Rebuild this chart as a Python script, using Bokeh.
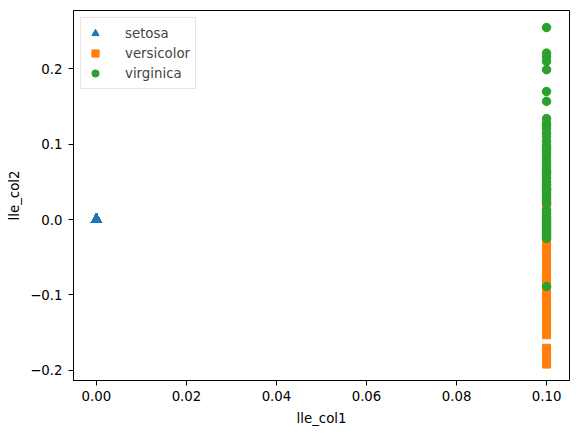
from bokeh.plotting import figure
from bokeh.models import Range1d, FixedTicker, CustomJSTickFormatter, Legend, LegendItem
from bokeh.embed import file_html
from bokeh.resources import INLINE

# ---- data ----
species = ["setosa", "versicolor", "virginica"]
colors = ["#1f77b4", "#ff7f0e", "#2ca02c"]

setosa_x = [0.0, 0.0, 0.0, 0.0, 0.0, 0.0, 0.0, 0.0, 0.0, 0.0,
            0.0, 0.0, 0.0, 0.0, 0.0, 0.0, 0.0, 0.0, 0.0, 0.0,
            0.0, 0.0, 0.0, 0.0, 0.0, 0.0, 0.0, 0.0, 0.0, 0.0,
            0.0, 0.0, 0.0, 0.0, 0.0, 0.0, 0.0, 0.0, 0.0, 0.0,
            0.0, 0.0, 0.0, 0.0, 0.0, 0.0, 0.0, 0.0, 0.0, 0.0]
setosa_y = [0.0, 0.0, 0.0, 0.0, 0.0, 0.0, 0.0, 0.0, 0.0, 0.0,
            0.0, 0.0, 0.0, 0.0, 0.0, 0.0, 0.0, 0.0, 0.0, 0.0,
            0.0, 0.0, 0.0, 0.0, 0.0, 0.0, 0.0, 0.0, 0.0, 0.0,
            0.0, 0.0, 0.0, 0.0, 0.0, 0.0, 0.0, 0.0, 0.0, 0.0,
            0.0, 0.0, 0.0, 0.0, 0.0, 0.0, 0.0, 0.0, 0.0, 0.0]

versicolor_x = [0.1, 0.1, 0.1, 0.1, 0.1, 0.1, 0.1, 0.1, 0.1, 0.1,
                0.1, 0.1, 0.1, 0.1, 0.1, 0.1, 0.1, 0.1, 0.1, 0.1,
                0.1, 0.1, 0.1, 0.1, 0.1, 0.1, 0.1, 0.1, 0.1, 0.1,
                0.1, 0.1, 0.1, 0.1, 0.1, 0.1, 0.1, 0.1, 0.1, 0.1,
                0.1, 0.1, 0.1, 0.1, 0.1, 0.1, 0.1, 0.1, 0.1, 0.1]
versicolor_y = [0.050, 0.043, 0.036, 0.030, 0.024, 0.018, 0.013, 0.008, 0.003,
                -0.002, -0.007, -0.012, -0.017, -0.022, -0.027, -0.032, -0.037,
                -0.042, -0.047, -0.052, -0.057, -0.062, -0.067, -0.072, -0.077,
                -0.082, -0.087, -0.092, -0.097, -0.102, -0.107, -0.112,
                -0.117, -0.121, -0.125, -0.129, -0.133, -0.137, -0.141, -0.145,
                -0.149, -0.153, -0.171, -0.175, -0.179, -0.183, -0.186, -0.189,
                -0.191, -0.192]

virginica_x = [0.1, 0.1, 0.1, 0.1, 0.1, 0.1, 0.1, 0.1, 0.1, 0.1,
               0.1, 0.1, 0.1, 0.1, 0.1, 0.1, 0.1, 0.1, 0.1, 0.1,
               0.1, 0.1, 0.1, 0.1, 0.1, 0.1, 0.1, 0.1, 0.1, 0.1,
               0.1, 0.1, 0.1, 0.1, 0.1, 0.1, 0.1, 0.1, 0.1, 0.1,
               0.1, 0.1, 0.1, 0.1, 0.1, 0.1, 0.1, 0.1, 0.1, 0.1]
virginica_y = [0.255, 0.221, 0.216, 0.210, 0.199, 0.170, 0.157,
               0.134, 0.128, 0.125, 0.121, 0.115, 0.110, 0.104, 0.098, 0.095,
               0.092, 0.088, 0.083, 0.078, 0.074, 0.069, 0.065, 0.063, 0.060,
               0.055, 0.050, 0.046, 0.042, 0.040, 0.038, 0.034, 0.030, 0.026,
               0.022, 0.021, 0.012, 0.008, 0.004, 0.001, -0.002, -0.005,
               -0.008, -0.011, -0.014, -0.017, -0.020, -0.023, -0.025, -0.089]

x_ticks = [0.0, 0.02, 0.04, 0.06, 0.08, 0.10]
y_ticks = [-0.2, -0.1, 0.0, 0.1, 0.2]

FONT = "DejaVu Sans"

p = figure(width=579, height=433, output_backend="svg", toolbar_location=None,
           x_range=Range1d(-0.0051, 0.1051), y_range=Range1d(-0.2138, 0.2776),
           min_border_left=73, min_border_right=10, min_border_top=10, min_border_bottom=53)
p.background_fill_color = "white"
p.border_fill_color = "white"
p.outline_line_color = "black"
p.outline_line_width = 1
p.xgrid.visible = False
p.ygrid.visible = False

r1 = p.scatter(setosa_x, setosa_y, marker="triangle", size=10, color=colors[0])
r2 = p.scatter(versicolor_x, versicolor_y, marker="square", size=8, color=colors[1])
r3 = p.scatter(virginica_x, virginica_y, marker="circle", size=8.5, color=colors[2])

for ax, ticks, fmt in ((p.xaxis[0], x_ticks, 2), (p.yaxis[0], y_ticks, 1)):
    ax.ticker = FixedTicker(ticks=ticks)
    ax.formatter = CustomJSTickFormatter(
        code="return tick.toFixed(%d).replace('-', '\\u2212');" % fmt)
    ax.minor_tick_line_color = None
    ax.major_tick_in = 0
    ax.major_tick_out = 5
    ax.major_label_text_font = FONT
    ax.major_label_text_font_size = "13.33px"
    ax.major_label_text_color = "black"
    ax.axis_label_text_font = FONT
    ax.axis_label_text_font_size = "13.33px"
    ax.axis_label_text_font_style = "normal"
    ax.axis_label_text_color = "black"
    ax.axis_line_color = "black"
    ax.major_tick_line_color = "black"

p.xaxis.axis_label = "lle_col1"
p.yaxis.axis_label = "lle_col2"
p.xaxis.major_label_standoff = 5
p.yaxis.major_label_standoff = 6
p.xaxis.axis_label_standoff = 7
p.yaxis.axis_label_standoff = 5

legend = Legend(items=[LegendItem(label=species[0], renderers=[r1]),
                       LegendItem(label=species[1], renderers=[r2]),
                       LegendItem(label=species[2], renderers=[r3])],
                location="top_left")
legend.margin = 7
legend.padding = 5
legend.spacing = 0
legend.label_height = 20
legend.glyph_height = 20
legend.glyph_width = 18
legend.label_standoff = 21
legend.label_text_font = FONT
legend.label_text_font_size = "13.33px"
legend.border_line_color = "#cccccc"
legend.border_line_width = 1
legend.background_fill_alpha = 0.8
p.add_layout(legend)

open("out.html", "w").write(file_html(p, INLINE))
